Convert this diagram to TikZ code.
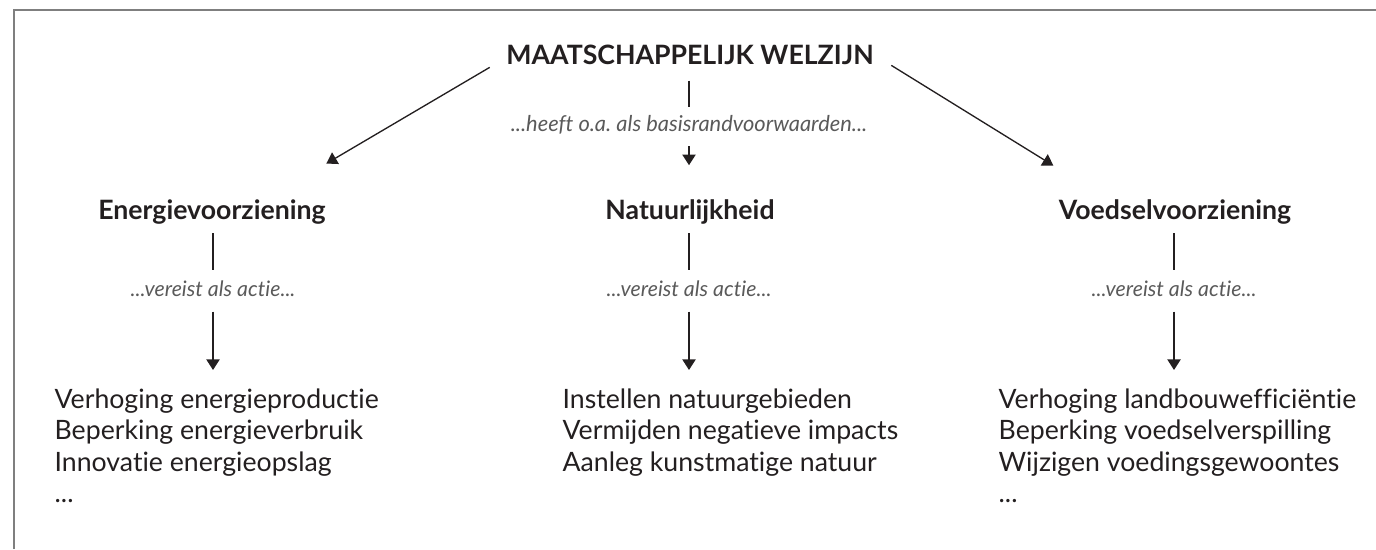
\documentclass[tikz,border=0pt]{standalone}
\usepackage{fontspec}
\setmainfont{Lato}[Ligatures=NoCommon]
\usetikzlibrary{arrows.meta}
\definecolor{inkt}{HTML}{231F20}
\definecolor{grijs}{HTML}{5A5A5A}
\definecolor{kader}{HTML}{7F7F7F}
\frenchspacing

\begin{document}
\begin{tikzpicture}[x=0.75pt, y=-0.75pt, line width=1pt, color=inkt,
		>={Triangle[length=8pt,width=10pt]},
		kop/.style={font=\fontsize{20}{24}\selectfont\bfseries, anchor=base, inner sep=0pt},
		verband/.style={font=\fontsize{16}{19}\selectfont\itshape, text=grijs, anchor=base, inner sep=0pt},
		lijst/.style={font=\fontsize{20}{23.6}\selectfont, anchor=north west, align=left, inner sep=0pt},
		lijn/.style={shorten <=6.75pt, shorten >=7pt},
		pijl/.style={->, shorten <=11pt, shorten >=13.5pt}]
		\useasboundingbox (0,0) rectangle (1376,549);
		\draw[kader, line width=1.5pt] (14,549) -- (14,10) -- (1376,10);

		% top
		\node[kop] (titel) at (690,65) {MAATSCHAPPELIJK WELZIJN};
		\node[verband, font=\fontsize{16.4}{19}\selectfont\itshape] (titel-lbl) at (689,132) {...heeft o.a. als basisrandvoorwaarden...};

		% headings
		\node[kop] (energie) at (212,219) {Energievoorziening};
		\node[kop] (natuur) at (690,219) {Natuurlijkheid};
		\node[kop] (voedsel) at (1175,219) {Voedselvoorziening};

		\node[verband] (energie-lbl) at (213,296) {...vereist als actie...};
		\node[verband] (natuur-lbl) at (689,296) {...vereist als actie...};
		\node[verband] (voedsel-lbl) at (1174,296) {...vereist als actie...};

		% actions
		\node[lijst] (energie-acties) at (54,388) {Verhoging energieproductie\\Beperking energieverbruik\\Innovatie energieopslag\\...};
		\node[lijst] (natuur-acties) at (562,388) {Instellen natuurgebieden\\Vermijden negatieve impacts\\Aanleg kunstmatige natuur};
		\node[lijst] (voedsel-acties) at (998,388) {Verhoging landbouwefficiëntie\\Beperking voedselverspilling\\Wijzigen voedingsgewoontes\\...};

		\draw[->] ([shift={(-16,12)}]titel.west) -- ([shift={(0,-35)}]energie.north east);
		\draw[->] ([shift={(17,10)}]titel.east) -- ([shift={(-5,-33)}]voedsel.north west);
		\draw[shorten <=11pt, shorten >=6pt] (titel.south -| titel-lbl) -- (titel-lbl.north);
		\draw[->, shorten <=8pt, shorten >=25pt] (titel-lbl.south) -- (natuur.north -| titel-lbl);

		\draw[lijn] (energie.south -| energie-lbl) -- (energie-lbl.north);
		\draw[lijn] (natuur.south -| natuur-lbl) -- (natuur-lbl.north);
		\draw[lijn] (voedsel.south -| voedsel-lbl) -- (voedsel-lbl.north);
		\draw[pijl] (energie-lbl.south) -- (energie-lbl.south |- energie-acties.north);
		\draw[pijl] (natuur-lbl.south) -- (natuur-lbl.south |- natuur-acties.north);
		\draw[pijl] (voedsel-lbl.south) -- (voedsel-lbl.south |- voedsel-acties.north);
	\end{tikzpicture}
\end{document}
